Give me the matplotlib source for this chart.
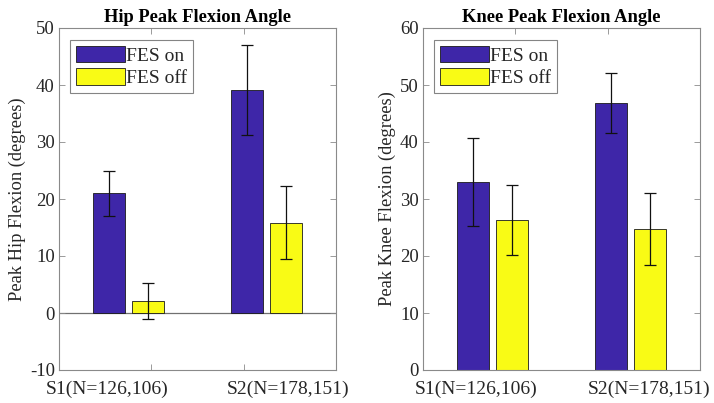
import matplotlib
matplotlib.use("Agg")
import matplotlib.pyplot as plt
import matplotlib.transforms as mtransforms
import numpy as np

plt.rcParams['font.family'] = ['Liberation Serif', 'DejaVu Serif']
plt.rcParams['axes.unicode_minus'] = False

groups = ["S1(N=126,106)", "S2(N=178,151)"]
series = ["FES on", "FES off"]

hip_on = [21.0, 39.1]
hip_on_err = [4.0, 7.9]
hip_off = [2.1, 15.8]
hip_off_err = [3.2, 6.4]

knee_on = [33.0, 46.8]
knee_on_err = [7.7, 5.3]
knee_off = [26.3, 24.7]
knee_off_err = [6.2, 6.3]

c_on = "#3E26A8"
c_off = "#F9FB15"
spine_c = "#8a8a8a"
text_c = "#262626"

fig = plt.figure(figsize=(7.14, 4.03), dpi=100)
axL = fig.add_axes([59/714, 33/403, 277/714, 342/403])
axR = fig.add_axes([423/714, 33/403, 277/714, 342/403])

def draw(ax, on, on_err, off, off_err, title, ylabel, ylim, yticks, label_x, zero_line):
    x = np.arange(1, len(groups) + 1)
    w = 0.231
    off_d = 0.142
    ax.bar(x - off_d, on, w, color=c_on, edgecolor="#1a1a1a", linewidth=0.6, label=series[0], zorder=2)
    ax.bar(x + off_d, off, w, color=c_off, edgecolor="#1a1a1a", linewidth=0.6, label=series[1], zorder=2)
    ax.errorbar(x - off_d, on, yerr=on_err, fmt='none', ecolor='#111111', elinewidth=0.9, capsize=4, capthick=0.9, zorder=3)
    ax.errorbar(x + off_d, off, yerr=off_err, fmt='none', ecolor='#111111', elinewidth=0.9, capsize=4, capthick=0.9, zorder=3)
    if zero_line:
        ax.axhline(0, color="#707070", linewidth=0.9, zorder=1)
    ax.set_xlim(0.5, 2.5)
    ax.set_ylim(*ylim)
    ax.set_yticks(yticks)
    ax.set_xticks([0.5 + 2/3, 0.5 + 4/3])
    ax.set_xticklabels(["", ""])
    ax.tick_params(axis='both', direction='in', top=True, right=True, length=4, width=0.6,
                   color=spine_c, labelsize=13.5, labelcolor=text_c, pad=3)
    for s in ax.spines.values():
        s.set_color(spine_c)
        s.set_linewidth(0.8)
    trans = mtransforms.blended_transform_factory(ax.transData, ax.transAxes)
    for lx, g in zip(label_x, groups):
        ax.text(lx, -0.03, g, transform=trans, ha='center', va='top', fontsize=14, color=text_c)
    ax.set_title(title, fontsize=13.3, fontweight='bold', pad=4, color='black')
    ax.set_ylabel(ylabel, fontsize=13.3, color=text_c, labelpad=3)
    leg = ax.legend(loc='upper left', bbox_to_anchor=(0.04, 0.965), fontsize=14, frameon=True,
                    fancybox=False, edgecolor='#666666', handlelength=2.5, handleheight=0.9,
                    handletextpad=0.1, borderpad=0.3, labelspacing=0.2, borderaxespad=0)
    leg.get_frame().set_linewidth(0.8)
    for t in leg.get_texts():
        t.set_color(text_c)

draw(axL, hip_on, hip_on_err, hip_off, hip_off_err, "Hip Peak Flexion Angle",
     "Peak Hip Flexion (degrees)", (-10, 50), np.arange(-10, 51, 10), [0.85, 2.155], True)
draw(axR, knee_on, knee_on_err, knee_off, knee_off_err, "Knee Peak Flexion Angle",
     "Peak Knee Flexion (degrees)", (0, 60), np.arange(0, 61, 10), [0.885, 2.135], False)

fig.savefig("out.png", dpi=100)
